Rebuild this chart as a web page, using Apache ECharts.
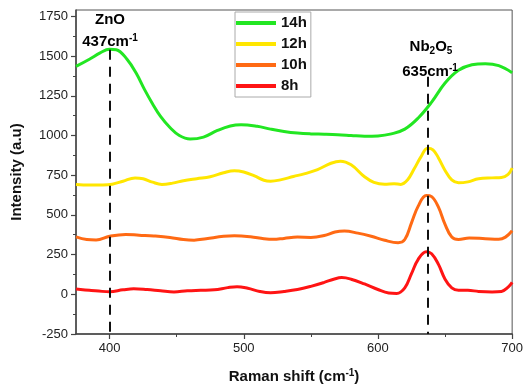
<!DOCTYPE html>
<html>
<head>
<meta charset="utf-8">
<style>
  html, body { margin: 0; padding: 0; background: #fff; }
  #chart { width: 526px; height: 390px; }
</style>
<script src="https://cdn.jsdelivr.net/npm/echarts@6/dist/echarts.min.js"></script>
</head>
<body>
<div id="chart"></div>
<script>
// Raman spectra
const seriesNames = ['14h', '12h', '10h', '8h'];
const seriesColors = ['#22e622', '#ffe600', '#ff6a14', '#ff1414'];

const shift14h = [375, 385, 393, 400, 405, 413, 420, 426, 432, 438, 445, 452, 460, 470, 480, 490, 498, 510, 520, 530, 540, 550, 560, 570, 580, 590, 600, 610, 620, 630, 640, 650, 660, 670, 680, 690, 700];
const int14h = [1435, 1480, 1520, 1543, 1540, 1480, 1390, 1290, 1200, 1120, 1050, 1000, 978, 990, 1030, 1060, 1068, 1058, 1040, 1025, 1015, 1010, 1008, 1005, 1000, 995, 997, 1010, 1040, 1110, 1210, 1330, 1410, 1445, 1452, 1440, 1395];

const shift12h = [375, 385, 395, 402, 410, 419, 425, 432, 439, 447, 455, 465, 475, 485, 493, 500, 508, 515, 520, 528, 537, 545, 555, 565, 572, 580, 590, 597, 605, 612, 617, 622, 627, 632, 637, 641, 645, 650, 655, 660, 667, 675, 685, 692, 697, 700];
const int12h = [692, 688, 688, 693, 712, 733, 728, 706, 692, 700, 715, 728, 740, 765, 778, 770, 745, 718, 712, 722, 742, 758, 785, 825, 838, 815, 740, 705, 693, 696, 692, 720, 790, 865, 920, 910, 860, 780, 720, 702, 708, 728, 733, 735, 755, 795];

const shift10h = [375, 383, 390, 400, 412, 422, 433, 445, 455, 463, 472, 485, 493, 505, 515, 522, 530, 540, 550, 560, 568, 575, 585, 595, 605, 615, 620, 625, 630, 636, 640, 645, 650, 655, 660, 668, 680, 690, 695, 700];
const int10h = [362, 345, 342, 365, 377, 372, 367, 358, 345, 341, 350, 365, 368, 362, 350, 346, 352, 360, 358, 370, 392, 398, 385, 365, 340, 325, 345, 450, 555, 622, 615, 550, 440, 360, 345, 355, 350, 346, 360, 400];

const shift8h = [375, 385, 392, 400, 410, 418, 428, 438, 448, 458, 468, 478, 488, 495, 503, 512, 520, 530, 540, 550, 560, 567, 573, 580, 590, 600, 608, 614, 620, 625, 630, 636, 640, 645, 650, 655, 660, 667, 675, 685, 692, 697, 700];
const int8h = [33, 25, 20, 16, 28, 35, 30, 22, 15, 22, 25, 28, 42, 48, 38, 18, 10, 18, 30, 50, 75, 95, 105, 95, 65, 30, 8, 5, 40, 130, 220, 268, 255, 190, 95, 40, 25, 25, 18, 15, 18, 45, 75];

// axis ticks
const xTicks = [400, 500, 600, 700];
const xMinorTicks = [450, 550, 650];
const yTicks = [-250, 0, 250, 500, 750, 1000, 1250, 1500, 1750];
const yMinorTicks = [-125, 125, 375, 625, 875, 1125, 1375, 1625];

// dashed peak markers: [x, top of dash]
const peakZnO = [400, 1540];
const peakNb2O5 = [637, 1370];

const shifts = [shift14h, shift12h, shift10h, shift8h];
const intensities = [int14h, int12h, int10h, int8h];

const chart = echarts.init(document.getElementById('chart'));
const font = 'Liberation Sans, Arial, sans-serif';
const axisColor = '#444';

function zip(xs, ys) {
  return xs.map((x, i) => [x, ys[i]]);
}

const series = seriesNames.map((name, i) => ({
  name: name,
  type: 'line',
  smooth: 0.4,
  showSymbol: false,
  symbol: 'none',
  data: zip(shifts[i], intensities[i]),
  lineStyle: { color: seriesColors[i], width: 3 },
  itemStyle: { color: seriesColors[i] },
  z: 3
}));

// dashed vertical lines
series.push({
  type: 'line',
  data: [],
  silent: true,
  markLine: {
    symbol: 'none',
    silent: true,
    label: { show: false },
    lineStyle: { color: '#111', width: 2, type: [10, 7] },
    data: [
      [{ coord: [peakZnO[0], peakZnO[1]] }, { coord: [peakZnO[0], -250] }],
      [{ coord: [peakNb2O5[0], peakNb2O5[1]] }, { coord: [peakNb2O5[0], -250] }]
    ]
  },
  z: 5
});

const axisLabelStyle = { color: '#222', fontSize: 13, fontFamily: font, formatter: v => String(v) };
const supRich = {
  b: { fontSize: 15, fontWeight: 'bold', color: '#111', fontFamily: font },
  sup: { fontSize: 10, fontWeight: 'bold', color: '#111', fontFamily: font, padding: [0, 0, 8, 0] },
  sub: { fontSize: 10, fontWeight: 'bold', color: '#111', fontFamily: font, padding: [8, 0, 0, 0] }
};

chart.setOption({
  animation: false,
  backgroundColor: '#fff',
  grid: {
    left: 76, right: 12, top: 10, bottom: 56,
    show: true, borderColor: '#555', borderWidth: 1, backgroundColor: 'transparent'
  },
  legend: {
    orient: 'vertical',
    left: 235,
    top: 12,
    padding: [3, 4, 3, 1],
    itemGap: 5,
    itemWidth: 40,
    itemHeight: 4,
    itemTextGap: 4,
    icon: 'rect',
    borderColor: '#aaa',
    borderWidth: 1,
    backgroundColor: '#fff',
    data: seriesNames,
    textStyle: { fontSize: 15, fontWeight: 'bold', color: '#111', fontFamily: font, lineHeight: 16 }
  },
  xAxis: [{
    type: 'value',
    min: 375,
    max: 700,
    name: '{b|Raman shift (cm}{sup|-1}{b|)}',
    nameLocation: 'middle',
    nameGap: 34,
    nameTextStyle: { rich: supRich },
    axisLine: { show: true, onZero: false, lineStyle: { color: axisColor, width: 1.5 } },
    axisTick: { show: true, length: 5, customValues: xTicks, lineStyle: { color: axisColor, width: 1.2 } },
    axisLabel: { customValues: xTicks, margin: 8, ...axisLabelStyle },
    splitLine: { show: false }
  }, {
    type: 'value',
    min: 375,
    max: 700,
    position: 'bottom',
    axisLine: { show: false, onZero: false },
    axisTick: { show: true, length: 3, customValues: xMinorTicks, lineStyle: { color: axisColor, width: 1 } },
    axisLabel: { show: false },
    splitLine: { show: false }
  }],
  yAxis: [{
    type: 'value',
    min: -250,
    max: 1790,
    name: 'Intensity (a.u)',
    nameLocation: 'middle',
    nameGap: 52,
    nameTextStyle: { fontSize: 15, fontWeight: 'bold', color: '#111', fontFamily: font },
    axisLine: { show: true, onZero: false, lineStyle: { color: axisColor, width: 1.5 } },
    axisTick: { show: true, length: 5, customValues: yTicks, lineStyle: { color: axisColor, width: 1.2 } },
    axisLabel: { customValues: yTicks, margin: 8, ...axisLabelStyle },
    splitLine: { show: false }
  }, {
    type: 'value',
    min: -250,
    max: 1790,
    position: 'left',
    axisLine: { show: false, onZero: false },
    axisTick: { show: true, length: 3, customValues: yMinorTicks, lineStyle: { color: axisColor, width: 1 } },
    axisLabel: { show: false },
    splitLine: { show: false }
  }],
  graphic: [
    { type: 'text', x: 110, y: 20, z: 10, style: { text: '{b|ZnO}', rich: supRich, align: 'center', verticalAlign: 'middle' } },
    { type: 'text', x: 110, y: 42, z: 10, style: { text: '{b|437cm}{sup|-1}', rich: supRich, align: 'center', verticalAlign: 'middle' } },
    { type: 'text', x: 431, y: 47, z: 10, style: { text: '{b|Nb}{sub|2}{b|O}{sub|5}', rich: supRich, align: 'center', verticalAlign: 'middle' } },
    { type: 'text', x: 430, y: 72, z: 10, style: { text: '{b|635cm}{sup|-1}', rich: supRich, align: 'center', verticalAlign: 'middle' } }
  ],
  series: series
});
</script>
</body>
</html>
